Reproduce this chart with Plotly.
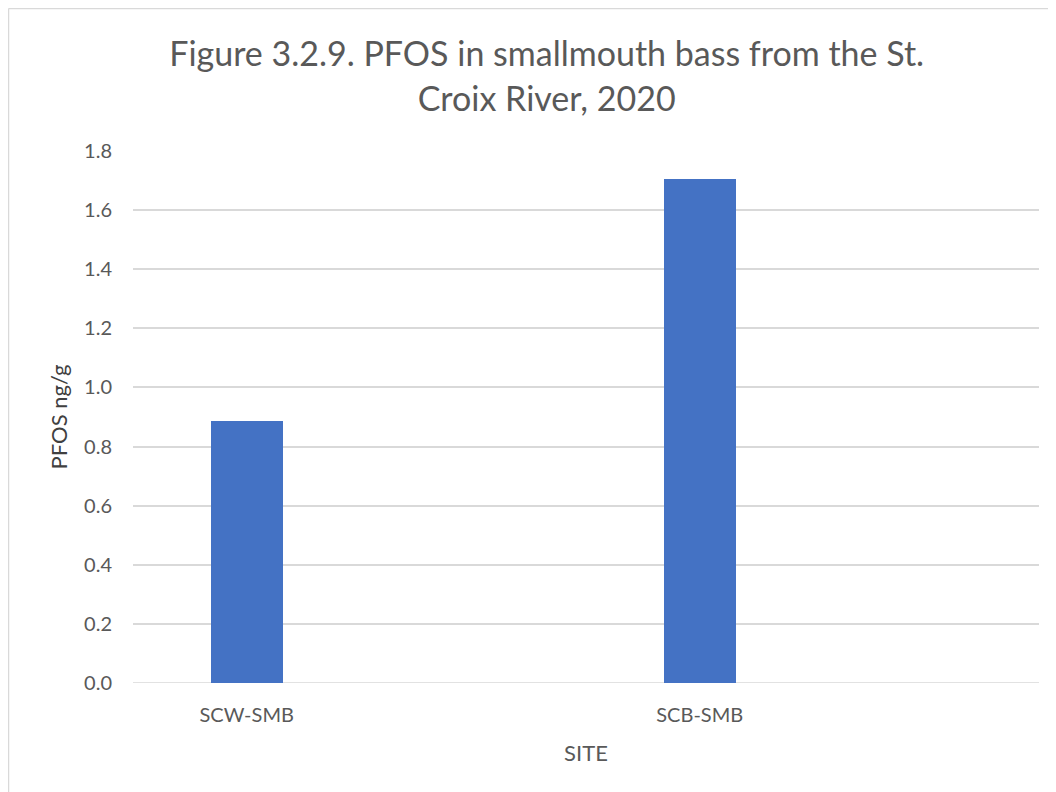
import plotly.graph_objects as go

# data
SITES = ["SCW-SMB", "SCB-SMB"]
PFOS = [0.885, 1.705]
Y_TICKS = [0.0, 0.2, 0.4, 0.6, 0.8, 1.0, 1.2, 1.4, 1.6, 1.8]

# the page body adds an 8px margin, so the figure is drawn 8px smaller
W, H = 1048, 784
L, R, T, B = 125, 17, 143, 109
PW, PH = W - L - R, H - T - B

FONT = "Lato"
GREY = "#595959"


def px_x(px):
    return (px - L) / PW


def px_y(py):
    return (H - B - py) / PH


idx = list(range(len(SITES)))

fig = go.Figure()
fig.add_trace(go.Bar(
    x=idx, y=PFOS,
    offset=-0.328, width=0.159,
    marker=dict(color="#4472C4", line=dict(width=0)),
    showlegend=False,
))

fig.update_layout(
    width=W, height=H,
    paper_bgcolor="white", plot_bgcolor="white",
    margin=dict(l=L, r=R, t=T, b=B),
    title=dict(
        text="Figure 3.2.9. PFOS in smallmouth bass from the St.<br>Croix River, 2020",
        x=0.514, xanchor="center", y=0.9255, yanchor="middle",
        font=dict(family=FONT, size=34, color=GREY),
    ),
    xaxis=dict(
        range=[-0.5, 1.5],
        tickvals=[i - 0.249 for i in idx], ticktext=SITES,
        showgrid=False, zeroline=False, showline=False,
        ticks="outside", ticklen=14, tickcolor="rgba(0,0,0,0)",
        tickfont=dict(family=FONT, size=20, color=GREY),
        title=dict(text="SITE", font=dict(family=FONT, size=22, color=GREY), standoff=20),
    ),
    yaxis=dict(
        range=[0, 1.8], tickvals=Y_TICKS, tickformat=".1f",
        showgrid=True, gridcolor="#D9D9D9", gridwidth=1.5,
        zeroline=False, showline=False,
        ticks="outside", ticklen=16, tickcolor="rgba(0,0,0,0)",
        tickfont=dict(family=FONT, size=20, color=GREY),
        title=dict(text="PFOS ng/g", font=dict(family=FONT, size=22, color="#404040"), standoff=10),
    ),
    bargap=0,
)

# baseline under bars
fig.add_shape(type="line", xref="paper", yref="y", x0=0, x1=1, y0=0, y1=0,
              line=dict(color="#D9D9D9", width=1.5), layer="below")

# chart frame (top and left edges visible)
fig.add_shape(type="line", xref="paper", yref="paper",
              x0=px_x(0.5), x1=px_x(W), y0=px_y(0.5), y1=px_y(0.5),
              line=dict(color="#D9D9D9", width=1.5))
fig.add_shape(type="line", xref="paper", yref="paper",
              x0=px_x(0.5), x1=px_x(0.5), y0=px_y(0.5), y1=px_y(H),
              line=dict(color="#D9D9D9", width=1.5))

fig.write_html("out.html")
